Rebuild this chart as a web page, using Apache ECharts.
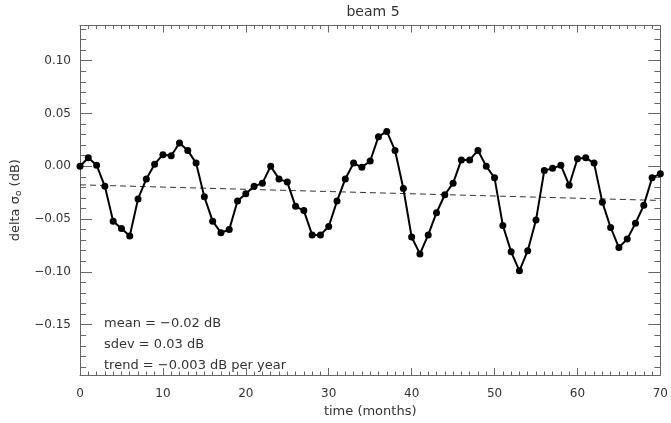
<!DOCTYPE html>
<html>
<head>
<meta charset="utf-8">
<script src="https://cdn.jsdelivr.net/npm/echarts@6/dist/echarts.min.js"></script>
<style>
  html, body { margin: 0; padding: 0; background: #fff; }
  #chart { width: 671px; height: 423px; }
</style>
</head>
<body>
<div id="chart"></div>
<script>
// monthly delta sigma0, months 0..70
var deltaSigma = [
  0.000, 0.008, 0.001, -0.019, -0.052, -0.059, -0.066, -0.031, -0.012, 0.002,
  0.011, 0.010, 0.022, 0.015, 0.003, -0.029, -0.052, -0.063, -0.060, -0.033,
  -0.026, -0.019, -0.016, 0.000, -0.012, -0.015, -0.038, -0.042, -0.065, -0.065,
  -0.057, -0.033, -0.012, 0.003, -0.001, 0.005, 0.028, 0.033, 0.015, -0.021,
  -0.067, -0.083, -0.065, -0.044, -0.027, -0.016, 0.006, 0.006, 0.015, 0.000,
  -0.011, -0.056, -0.081, -0.099, -0.080, -0.051, -0.004, -0.002, 0.001, -0.018,
  0.007, 0.008, 0.003, -0.034, -0.058, -0.077, -0.069, -0.054, -0.037, -0.011,
  -0.007
];
var trendX = [0, 70];
var trendY = [-0.0176, -0.0324];
var yTicks = [-0.15, -0.10, -0.05, 0.00, 0.05, 0.10];
var statLines = ['mean = \u22120.02 dB', 'sdev = 0.03 dB', 'trend = \u22120.003 dB per year'];

var yMin = -0.1977, yMax = 0.1333;
var yMinor = [];
for (var k = -19; k <= 13; k++) {
  yMinor.push(+(k / 100).toFixed(2));
}

var font = 'DejaVu Sans';
var textColor = '#333';
var lineColor = '#666';

var mainData = [];
for (var i = 0; i < deltaSigma.length; i++) {
  mainData.push([i, deltaSigma[i]]);
}
var trendData = [];
for (var j = 0; j < trendX.length; j++) {
  trendData.push([trendX[j], trendY[j]]);
}

function yAxisDef(pos, ticks, len, withLabel) {
  return {
    type: 'value',
    position: pos,
    min: yMin,
    max: yMax,
    splitLine: { show: false },
    axisLine: { show: true, onZero: false, lineStyle: { color: lineColor, width: 1 } },
    axisTick: { show: true, inside: true, length: len, customValues: ticks, lineStyle: { color: lineColor } },
    axisLabel: withLabel ? {
      show: true,
      customValues: yTicks,
      margin: 9,
      color: textColor,
      fontFamily: font,
      fontSize: 12,
      formatter: function (v) { return v.toFixed(2).replace('-', '\u2212'); }
    } : { show: false }
  };
}

function xAxisDef(pos, withLabel) {
  var ax = {
    type: 'value', position: pos, min: 0, max: 70, interval: 10,
    splitLine: { show: false },
    axisLine: { show: true, onZero: false, lineStyle: { color: lineColor, width: 1 } },
    axisTick: { inside: true, length: 7, lineStyle: { color: lineColor } },
    minorTick: { show: true, splitNumber: 10, length: 3.5, lineStyle: { color: lineColor } },
    axisLabel: withLabel ? { margin: 13, color: textColor, fontFamily: font, fontSize: 12 } : { show: false }
  };
  if (withLabel) {
    ax.name = 'time (months)';
    ax.nameLocation = 'middle';
    ax.nameGap = 30;
    ax.nameTextStyle = { color: textColor, fontFamily: font, fontSize: 13 };
  }
  return ax;
}

var chart = echarts.init(document.getElementById('chart'));
var yLeft = yAxisDef('left', yTicks, 12, true);
yLeft.name = '{a|delta \u03c3}{s|o}{a| (dB)}';
yLeft.nameLocation = 'middle';
yLeft.nameRotate = 90;
yLeft.nameGap = 50;
yLeft.nameTextStyle = {
  rich: {
    a: { fontFamily: font, fontSize: 13, color: textColor },
    s: { fontFamily: font, fontSize: 9, color: textColor, verticalAlign: 'bottom', padding: [6, 0, 0, 0] }
  }
};

function statText(y, txt) {
  return {
    type: 'text', x: 104, y: y,
    style: { text: txt, fontFamily: font, fontSize: 13, fill: textColor, verticalAlign: 'middle' }
  };
}

var option = {
  animation: false,
  backgroundColor: '#fff',
  grid: { left: 80, right: 5, top: 25.5, bottom: 40 },
  xAxis: [xAxisDef('bottom', true), xAxisDef('top', false)],
  yAxis: [
    yLeft,
    yAxisDef('left', yMinor, 6, false),
    yAxisDef('right', yTicks, 12, false),
    yAxisDef('right', yMinor, 6, false)
  ],
  graphic: [{
    type: 'text', x: 373, y: 12,
    style: { text: 'beam 5', fontFamily: font, fontSize: 14, fill: textColor, align: 'center', verticalAlign: 'middle' }
  },
    statText(324, statLines[0]),
    statText(345, statLines[1]),
    statText(366, statLines[2])
  ],
  series: [{
    type: 'line',
    data: trendData,
    xAxisIndex: 0, yAxisIndex: 0,
    symbol: 'none',
    lineStyle: { color: '#333', width: 1, type: [6, 4] },
    z: 2
  }, {
    type: 'line',
    data: mainData,
    xAxisIndex: 0, yAxisIndex: 0,
    symbol: 'circle', symbolSize: 7,
    itemStyle: { color: '#000' },
    lineStyle: { color: '#000', width: 2 },
    z: 3
  }]
};
chart.setOption(option);
</script>
</body>
</html>
